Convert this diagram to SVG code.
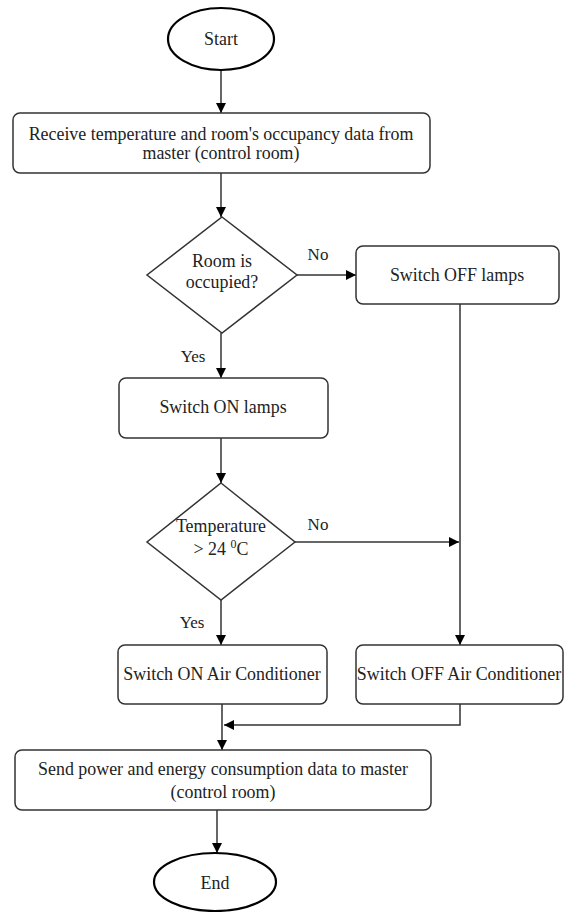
<svg xmlns="http://www.w3.org/2000/svg" width="564" height="912" viewBox="0 0 564 912">
  <style>
    .box { fill: #ffffff; stroke: #333333; stroke-width: 1.5; }
    .term { fill: #ffffff; stroke: #000000; stroke-width: 2.2; }
    .edge { fill: none; stroke: #333333; stroke-width: 1.5; }
    text { font-family: 'Times New Roman', 'Liberation Serif', Tinos, 'DejaVu Serif', serif; font-size: 17.9px; fill: #222222; text-anchor: middle; }
    .lbl { font-size: 17px; }
  </style>
  <defs>
    <marker id="arrow" viewBox="0 0 10 10" refX="10" refY="5" markerWidth="10" markerHeight="10" markerUnits="userSpaceOnUse" orient="auto">
      <path d="M0,0 L10,5 L0,10 Z" fill="#000000"/>
    </marker>
  </defs>
  <rect width="564" height="912" fill="#ffffff"/>

  <!-- connectors -->
  <g id="connectors">
    <line class="edge" x1="221" y1="70" x2="221" y2="113" marker-end="url(#arrow)"/>
    <line class="edge" x1="221" y1="173" x2="221" y2="217" marker-end="url(#arrow)"/>
    <line class="edge" x1="297" y1="275" x2="356" y2="275" marker-end="url(#arrow)"/>
    <line class="edge" x1="221" y1="333" x2="221" y2="378" marker-end="url(#arrow)"/>
    <line class="edge" x1="460" y1="304" x2="460" y2="645" marker-end="url(#arrow)"/>
    <line class="edge" x1="221" y1="438" x2="221" y2="483" marker-end="url(#arrow)"/>
    <line class="edge" x1="295" y1="542" x2="459" y2="542" marker-end="url(#arrow)"/>
    <line class="edge" x1="221" y1="600" x2="221" y2="645" marker-end="url(#arrow)"/>
    <line class="edge" x1="222" y1="704" x2="222" y2="750" marker-end="url(#arrow)"/>
    <polyline class="edge" points="460,704 460,725 224,725" marker-end="url(#arrow)"/>
    <line class="edge" x1="217" y1="810" x2="217" y2="853" marker-end="url(#arrow)"/>
    <text class="lbl" x="318" y="260">No</text>
    <text class="lbl" x="193" y="362">Yes</text>
    <text class="lbl" x="318" y="530">No</text>
    <text class="lbl" x="192" y="628">Yes</text>
  </g>

  <g id="start">
    <ellipse class="term" cx="221" cy="39" rx="53" ry="31"/>
    <text x="221" y="45">Start</text>
  </g>

  <g id="receive">
    <rect class="box" x="13" y="113" width="417" height="60" rx="7"/>
    <text x="221" y="140">Receive temperature and room's occupancy data from</text>
    <text x="221" y="159">master (control room)</text>
  </g>

  <g id="occupied">
    <polygon class="box" points="222,217 297,275 222,333 147,275"/>
    <text x="222" y="267">Room is</text>
    <text x="222" y="288">occupied?</text>
  </g>

  <g id="lamps-off">
    <rect class="box" x="356" y="246" width="203" height="58" rx="7"/>
    <text x="457" y="281">Switch OFF lamps</text>
  </g>

  <g id="lamps-on">
    <rect class="box" x="119" y="378" width="209" height="60" rx="7"/>
    <text x="223" y="413">Switch ON lamps</text>
  </g>

  <g id="temperature">
    <polygon class="box" points="221,483 295,542 221,600 147,542"/>
    <text x="221" y="532">Temperature</text>
    <text x="221" y="555">&gt; 24 <tspan font-size="12" dy="-7">0</tspan><tspan dy="7">C</tspan></text>
  </g>

  <g id="ac-on">
    <rect class="box" x="118" y="645" width="209" height="59" rx="7"/>
    <text x="222" y="680">Switch ON Air Conditioner</text>
  </g>

  <g id="ac-off">
    <rect class="box" x="356" y="645" width="207" height="59" rx="7"/>
    <text x="459" y="680">Switch OFF Air Conditioner</text>
  </g>

  <g id="send">
    <rect class="box" x="15" y="750" width="416" height="60" rx="7"/>
    <text x="223" y="775">Send power and energy consumption data to master</text>
    <text x="223" y="798">(control room)</text>
  </g>

  <g id="end">
    <ellipse class="term" cx="215" cy="882" rx="61" ry="29"/>
    <text x="215" y="889">End</text>
  </g>
</svg>
